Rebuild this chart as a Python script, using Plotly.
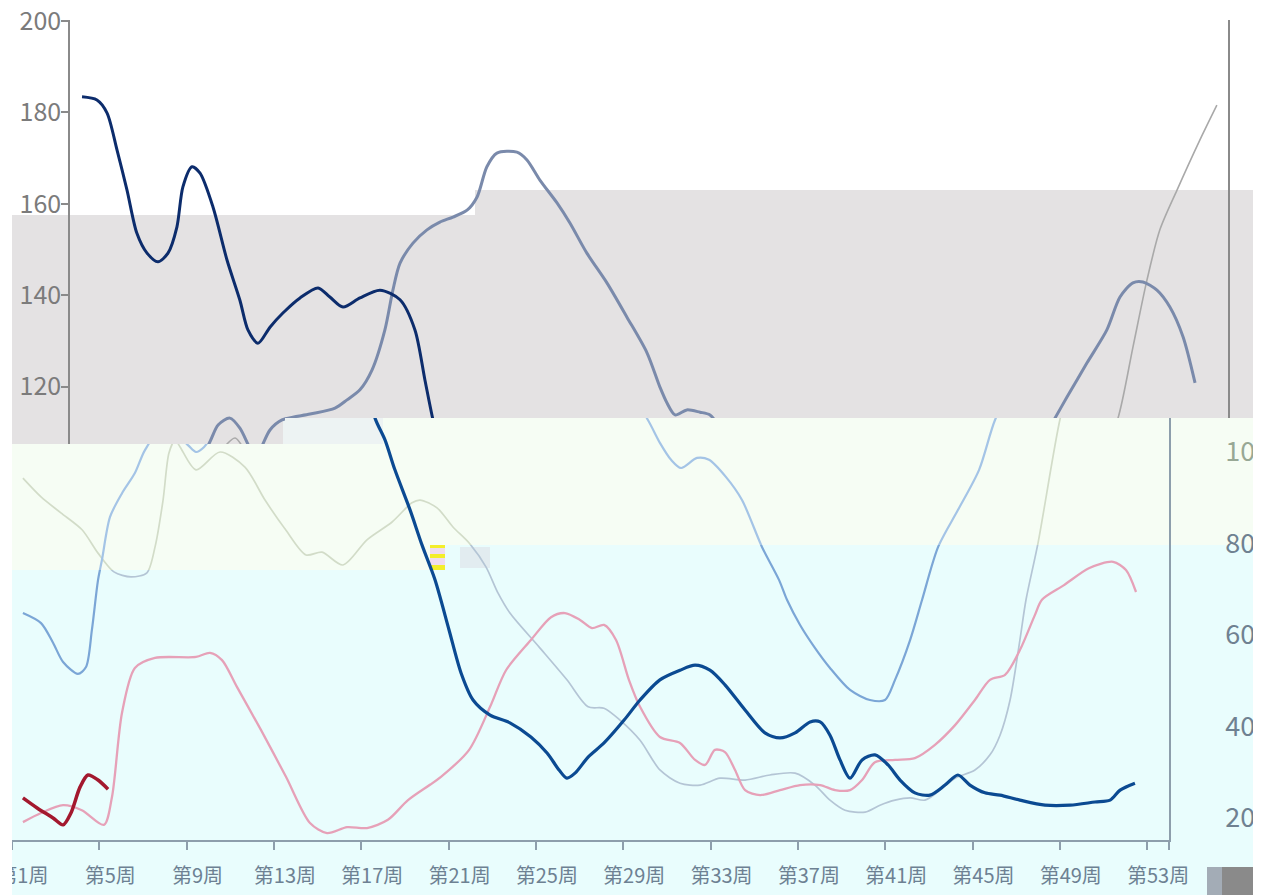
import plotly.graph_objects as go

W, H = 1278, 895
FONT = "Noto Sans CJK SC, Noto Sans, sans-serif"

# ------------------------------------------------------------------ data
week_label_pos = list(range(1, 54, 4))
week_labels = [f"第{i}周" for i in week_label_pos]
week_boundaries = [w - 0.5 for w in week_label_pos] + [53.5]

left_ticks = [120, 140, 160, 180, 200]
right_ticks = [20, 40, 60, 80, 100]
right_tick_colors = ["#6f8191", "#6f8191", "#6f8191", "#6f8191", "#98a895"]

# upper chart (left axis)
navy_wk = [1.04, 1.71, 2.16, 2.61, 3.06, 3.5, 3.96, 4.45, 4.9, 5.3, 5.57, 5.98, 6.34, 6.92,
           7.55, 8.13, 8.49, 8.94, 9.48, 10.06, 10.83, 11.64, 12.17, 12.76, 13.52, 14.42,
           15.32, 15.99, 16.44, 16.8, 17.34]
navy_val = [183.4, 182.7, 179.9, 171.8, 163.0, 153.6, 149.2, 147.3, 149.2, 154.9, 163.7, 168.1,
            166.7, 159.3, 147.7, 138.9, 132.4, 129.5, 133.0, 136.1, 139.4, 141.6, 139.6, 137.4,
            139.4, 141.1, 139.0, 132.4, 121.4, 112.7, 101.7]

slate_wk = [4.5, 6.56, 7.15, 7.68, 8.13, 8.49, 8.81, 9.12, 9.48, 10.02, 11.28, 12.4, 12.94,
            13.52, 14.06, 14.64, 15.0, 15.32, 15.9, 16.53, 17.11, 17.7, 18.33, 18.78, 19.22,
            19.67, 20.57, 21.02, 21.6, 22.37, 22.95, 23.71, 24.61, 25.51, 26.41, 26.99, 27.31,
            27.67, 28.2, 28.79, 29.24, 29.78, 31.0, 37.0, 43.5, 44.2, 44.73, 45.27, 46.17,
            47.06, 47.65, 48.23, 48.68, 49.31, 49.89, 50.48, 51.02]
slate_val = [100, 106.1, 111.6, 113.1, 110.9, 107.4, 104.4, 107.0, 110.5, 112.7, 114.0, 115.3,
             117.1, 119.3, 123.6, 132.4, 141.1, 147.0, 151.4, 154.3, 156.0, 157.1, 158.6, 161.5,
             168.1, 171.1, 171.3, 169.6, 165.2, 160.2, 155.8, 149.2, 142.7, 135.2, 127.4, 119.9,
             116.4, 113.8, 114.9, 114.4, 113.8, 110.5, 104, 98, 104, 108.5, 113.1, 117.7, 125.2,
             132.4, 139.6, 142.7, 142.9, 141.1, 137.4, 130.9, 120.8]

grey_wk = [6.5, 7.24, 7.91, 8.36, 9.5, 20, 35, 45, 46.8, 47.56, 48.23, 48.86, 49.44, 50.21,
           51.24, 52.0]
grey_val = [100, 105.7, 108.75, 106.1, 100, 96, 96, 98, 104, 113.1, 128.6, 143.3, 154.3, 163.0,
            174.0, 181.6]

# lower chart (right axis)
red_wk = [1.0, 1.65, 2.38, 2.84, 3.2, 3.62, 3.98, 4.44, 4.9]
red_val = [24.4, 22.2, 20.0, 18.5, 21.1, 26.8, 29.4, 28.3, 26.3]

pink_wk = [1.0, 1.83, 2.84, 3.7, 4.71, 5.08, 5.54, 6.13, 7.05, 8.93, 9.57, 10.12, 10.81, 11.91,
           13.05, 14.15, 14.93, 15.85, 16.76, 17.72, 18.64, 20.15, 21.44, 22.4, 23.13, 24.27,
           25.19, 25.83, 26.52, 27.07, 27.62, 28.17, 28.76, 29.27, 30.18, 31.1, 31.79, 32.25,
           32.7, 33.16, 33.62, 34.08, 34.77, 35.68, 36.6, 37.52, 38.2, 38.89, 39.44, 40.03,
           40.95, 41.86, 42.78, 43.7, 44.61, 45.3, 45.99, 46.67, 47.36, 47.68, 48.69, 49.83,
           50.94, 51.53, 51.99]
pink_val = [19.1, 21.1, 22.8, 21.7, 18.5, 24.6, 43.0, 52.8, 55.0, 55.2, 56.1, 54.5, 48.6, 39.2,
            29.0, 18.9, 16.7, 18.0, 17.8, 19.6, 23.9, 29.0, 34.9, 44.3, 52.3, 58.9, 63.9, 64.8,
            63.3, 61.5, 62.2, 58.9, 50.2, 44.3, 37.7, 36.4, 32.7, 31.6, 34.9, 34.4, 30.5, 26.1,
            25.0, 26.1, 27.2, 27.2, 26.1, 26.1, 28.3, 32.2, 32.7, 33.1, 36.0, 40.3, 45.8, 50.2,
            51.3, 56.7, 64.4, 67.7, 70.9, 74.6, 76.0, 74.2, 69.4]

dblue_wk = [16.6, 17.13, 17.59, 18.04, 18.73, 19.28, 19.88, 20.52, 21.07, 21.62, 22.4, 23.31,
            24.27, 25.01, 25.56, 25.92, 26.29, 26.89, 27.62, 28.54, 29.27, 30.18, 31.1, 31.79,
            32.47, 33.16, 34.08, 34.99, 35.68, 36.37, 37.06, 37.52, 37.97, 38.43, 38.89, 39.44,
            40.03, 40.63, 41.18, 41.86, 42.55, 43.24, 43.83, 44.38, 45.07, 45.76, 46.67, 47.82,
            48.97, 50.11, 50.8, 51.26, 51.94]
dblue_val = [118, 107.4, 102.6, 96.1, 87.4, 79.7, 72.0, 61.1, 51.7, 45.8, 42.5, 40.8, 37.7, 34.2,
             30.5, 28.7, 29.8, 33.3, 36.4, 41.4, 45.8, 50.2, 52.3, 53.4, 52.3, 49.1, 43.6, 38.6,
             37.5, 38.6, 41.0, 41.0, 38.1, 32.7, 28.7, 32.7, 33.8, 31.6, 28.3, 25.5, 25.0, 27.2,
             29.4, 27.2, 25.5, 25.0, 23.9, 22.8, 22.8, 23.5, 23.9, 26.1, 27.6]

lblue_wk = [1.0, 1.83, 2.38, 2.84, 3.52, 3.89, 4.16, 4.44, 4.62, 4.99, 5.54, 6.13, 6.59, 7.5,
            8.56, 8.93, 9.3, 9.66, 10.5, 20, 28.9, 29.63, 30.18, 30.69, 31.15, 31.88, 32.43,
            33.21, 33.94, 34.86, 35.64, 36.0, 36.6, 37.28, 37.97, 38.89, 39.8, 40.49, 40.95,
            41.64, 42.19, 42.92, 43.83, 44.8, 45.53, 46.2]
lblue_val = [64.8, 62.6, 58.3, 54.1, 51.5, 53.0, 61.1, 72.0, 76.4, 85.8, 91.0, 95.4, 100.4, 106,
             101.5, 100.0, 101.1, 103.7, 112, 118, 112, 107.0, 102.0, 98.3, 96.5, 98.7, 98.3,
             94.5, 89.5, 79.2, 72.0, 67.7, 62.2, 57.2, 52.8, 48.0, 45.8, 45.8, 50.2, 58.9, 67.7,
             79.2, 87.3, 96.1, 107.0, 113]

pale_wk = [1.0, 1.83, 2.74, 3.71, 4.44, 5.17, 5.95, 6.68, 7.05, 7.42, 7.69, 7.97, 8.2, 8.93,
           10.03, 11.17, 12.09, 13.05, 13.97, 14.7, 15.66, 16.76, 17.91, 18.82, 19.19, 19.97,
           20.7, 21.44, 22.21, 22.76, 23.31, 24.64, 25.92, 26.89, 27.62, 28.35, 29.27, 30.18,
           31.1, 32.02, 32.93, 34.08, 35.22, 36.37, 37.28, 37.97, 38.66, 39.58, 40.26, 40.95,
           41.64, 42.32, 43.01, 43.7, 44.61, 45.3, 45.76, 46.22, 46.67, 46.95, 47.5, 48.51, 48.97]
pale_val = [94.3, 90.2, 86.7, 83.0, 77.9, 73.8, 72.7, 73.6, 79.2, 89.5, 99.8, 102.6, 101.1, 96.1,
            100.0, 96.7, 89.5, 82.9, 77.5, 78.1, 75.3, 80.8, 84.7, 88.9, 89.5, 87.8, 83.6, 80.1,
            74.9, 69.2, 64.8, 57.4, 50.2, 44.3, 44.0, 41.4, 37.0, 30.5, 27.6, 27.2, 28.7, 28.3,
            29.4, 29.8, 27.2, 23.9, 21.7, 21.3, 22.8, 23.9, 24.4, 23.9, 26.1, 28.7, 30.5, 33.8,
            38.1, 45.8, 58.9, 67.7, 80.1, 107.2, 115]

# ------------------------------------------------------------------ geometry helpers
def top_week(p):
    return 0.5 + (p - 70) * 52.0 / (1228 - 70)


def top_val(p):
    return 200 - (p - 21) / 4.57


def low_week(p):
    return 0.5 + (p - 12) * 53.0 / (1169 - 12)


def low_val(p):
    return 100 - (p - 452) / 4.575


fig = go.Figure()
axes = {}
count = [0]


def add_subplot(x0, x1, y0, y1, xr, yr, xextra=None, yextra=None):
    count[0] += 1
    n = count[0]
    s = "" if n == 1 else str(n)
    xa = dict(domain=[x0 / W, x1 / W], range=xr, visible=False, anchor="y" + s,
              fixedrange=True, showgrid=False, zeroline=False, automargin=False)
    ya = dict(domain=[1 - y1 / H, 1 - y0 / H], range=yr, visible=False, anchor="x" + s,
              fixedrange=True, showgrid=False, zeroline=False, automargin=False)
    if xextra:
        xa.update(xextra)
    if yextra:
        ya.update(yextra)
    axes["xaxis" + s] = xa
    axes["yaxis" + s] = ya
    return "x" + s, "y" + s


def line(xs, ys, xa, ya, color, width):
    fig.add_trace(go.Scatter(x=xs, y=ys, xaxis=xa, yaxis=ya, mode="lines",
                             line=dict(color=color, width=width, shape="spline", smoothing=0.8),
                             showlegend=False, hoverinfo="skip"))


# ------------------------------------------------------------------ upper chart
AXC = "#8a8a8a"
tl = add_subplot(70, 285, 20, 444, [top_week(70), top_week(285)], [top_val(444), top_val(20)],
                 yextra=dict(visible=True, showline=True, linecolor=AXC, linewidth=1.5,
                             ticks="outside", ticklen=7, tickwidth=1.5, tickcolor=AXC,
                             tickvals=left_ticks, ticklabeloverflow="allow",
                             ticklabelstandoff=-5,
                             tickfont=dict(family=FONT, size=25, color="#7b7b7b")))
tr = add_subplot(285, 1228, 20, 418, [top_week(285), top_week(1228)], [top_val(418), top_val(20)],
                 yextra=dict(visible=True, side="right", showline=True, linecolor=AXC,
                             linewidth=1.5, ticks="", showticklabels=False))
for xa, ya in (tl, tr):
    line(grey_wk, grey_val, xa, ya, "#a9a9a9", 1.6)
    line(slate_wk, slate_val, xa, ya, "#7a8aab", 3)
    line(navy_wk, navy_val, xa, ya, "#0c2c6c", 3)

# ------------------------------------------------------------------ lower chart (pieces)
regions = [
    (12, 285, 444, 570, "mint"),
    (285, 430, 418, 570, "mint"),
    (430, 1169, 418, 545, "mint"),
    (12, 430, 570, 840, "cyan"),
    (430, 1169, 545, 840, "cyan"),
]
pale_col = {"mint": "#d2dcc8", "cyan": "#b4c5d5"}
lblue_col = {"mint": "#a4c4e6", "cyan": "#7ba6d6"}
for x0, x1, y0, y1, tone in regions:
    xa, ya = add_subplot(x0, x1, y0, y1, [low_week(x0), low_week(x1)], [low_val(y1), low_val(y0)])
    line(pale_wk, pale_val, xa, ya, pale_col[tone], 1.7)
    line(lblue_wk, lblue_val, xa, ya, lblue_col[tone], 2.2)
    line(pink_wk, pink_val, xa, ya, "#e6a1b8", 2.3)
    line(red_wk, red_val, xa, ya, "#a3182e", 3.5)
    line(dblue_wk, dblue_val, xa, ya, "#0b4a92", 3.2)

# lower chart axes
LAXC = "#8d9eac"
ax_x, ax_y = add_subplot(
    12, 1169, 418, 840, [0.5, 53.5], [low_val(840), low_val(418)],
    xextra=dict(visible=True, showline=True, linecolor=LAXC, linewidth=1.5, ticks="",
                tickvals=week_label_pos, ticktext=week_labels, ticklabelstandoff=17,
                ticklabeloverflow="allow",
                tickfont=dict(family=FONT, size=20, color="#6d8193"),
                minor=dict(tickvals=week_boundaries, ticks="outside", ticklen=8,
                           tickwidth=1.5, tickcolor=LAXC)),
    yextra=dict(visible=True, side="right", showline=True, linecolor=LAXC, linewidth=1.5,
                ticks="", tickvals=right_ticks, ticklabeloverflow="allow",
                ticktext=[f"<span style='color:{c}'>{t}</span>" for t, c in zip(right_ticks, right_tick_colors)],
                ticklabelstandoff=49,
                tickfont=dict(family=FONT, size=27, color="#6f8191")))
fig.add_trace(go.Scatter(x=[None], y=[None], xaxis=ax_x, yaxis=ax_y, showlegend=False,
                         hoverinfo="skip"))

# ------------------------------------------------------------------ backgrounds
def rect(x0, y0, x1, y1, color, layer="below"):
    return dict(type="rect", xref="paper", yref="paper", x0=x0 / W, x1=x1 / W,
                y0=1 - y1 / H, y1=1 - y0 / H, fillcolor=color, line=dict(width=0), layer=layer)


GRAY, MINT, CYAN = "#e4e2e3", "#f6fdf4", "#e9fdfd"
shapes = [
    rect(12, 215, 285, 444, GRAY), rect(285, 215, 475, 418, GRAY), rect(475, 190, 1253, 418, GRAY),
    rect(12, 444, 285, 570, MINT), rect(285, 418, 430, 570, MINT), rect(430, 418, 1253, 545, MINT),
    rect(12, 570, 430, 895, CYAN), rect(430, 545, 1253, 895, CYAN),
    rect(283, 418, 383, 444, "#edf3f3"),
    rect(430, 545, 445, 548, "#f3ee2a"), rect(430, 548, 445, 554, "#efdcef"),
    rect(430, 554, 445, 558, "#f3ee2a"), rect(430, 558, 445, 565, "#efdcef"),
    rect(430, 565, 445, 570, "#f3ee2a"), rect(460, 547, 490, 568, "#e2ecf0"),
    rect(0, 0, 12, 895, "white", "above"), rect(1253, 0, 1278, 895, "white", "above"),
    rect(1207, 867, 1222, 895, "#a3acb6", "above"), rect(1222, 867, 1253, 895, "#8a8a8a", "above"),
]

fig.update_layout(
    width=W, height=H, autosize=False,
    margin=dict(l=0, r=0, t=0, b=0, pad=0, autoexpand=False),
    paper_bgcolor="white", plot_bgcolor="rgba(0,0,0,0)",
    showlegend=False, shapes=shapes, hovermode=False,
    **axes,
)

fig.write_html("out.html", config={"displayModeBar": False},
               post_script="document.body.style.margin='0';document.body.style.overflow='hidden';")
